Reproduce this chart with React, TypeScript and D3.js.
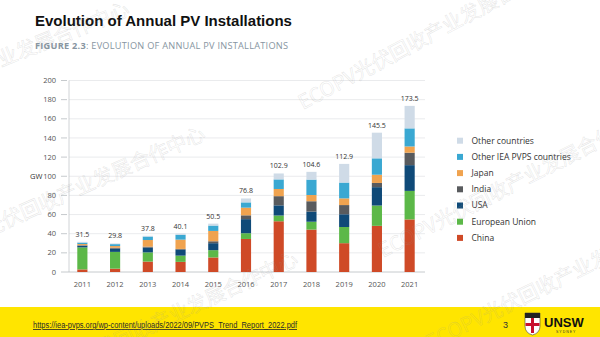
import React from "react";
import * as d3 from "d3";

const years = ["2011","2012","2013","2014","2015","2016","2017","2018","2019","2020","2021"];
const totals = [31.5, 29.8, 37.8, 40.1, 50.5, 76.8, 102.9, 104.6, 112.9, 145.5, 173.5];
const totalLabels = ["31.5","29.8","37.8","40.1","50.5","76.8","102.9","104.6","112.9","145.5","173.5"];

const china = [2.7, 3.5, 10.9, 10.6, 15.2, 34.5, 53.0, 44.3, 30.1, 48.2, 54.9];
const eu = [23.0, 17.5, 9.6, 6.5, 7.6, 6.0, 6.0, 8.2, 16.9, 21.2, 29.8];
const usa = [1.9, 3.4, 4.9, 6.2, 7.3, 14.7, 10.6, 10.6, 13.3, 19.2, 26.9];
const india = [0.3, 1.0, 1.1, 0.8, 2.0, 4.0, 9.6, 10.8, 9.6, 4.4, 13.0];
const japan = [1.3, 1.7, 6.9, 9.7, 10.8, 8.0, 7.5, 6.5, 7.0, 8.6, 6.5];
const otherIea = [1.5, 2.0, 3.6, 5.0, 5.6, 5.5, 10.0, 16.1, 16.5, 17.1, 18.9];
const otherCountries = [0.8, 0.7, 0.8, 1.3, 2.0, 4.1, 6.2, 8.1, 19.5, 26.8, 23.5];

const seriesNames = ["China", "European Union", "USA", "India", "Japan", "Other IEA PVPS countries", "Other countries"];
const seriesColors = ["#cf4a27", "#5cb848", "#0f4a78", "#595b5e", "#f0a34f", "#3aa8d2", "#cfdbe7"];
const seriesValues = [china, eu, usa, india, japan, otherIea, otherCountries];
const yTicks = [0, 20, 40, 60, 80, 100, 120, 140, 160, 180, 200];

const watermark = "ECOPV光伏回收产业发展合作中心";
const wmPositions = [
  { x: -150, y: 128, a: -22 },
  { x: -70, y: 262, a: -24 },
  { x: 303, y: 110, a: -28 },
  { x: 383, y: 258, a: -27 },
  { x: 25, y: 392, a: -25 },
  { x: 430, y: 350, a: -26 },
];

export default function App() {
  const x = d3.scaleBand<string>().domain(years).range([66, 426]).paddingInner(0.69).paddingOuter(0.345);
  const y = d3.scaleLinear().domain([0, 200]).range([272, 80.5]);

  const table = years.map((yr, i) => {
    const row: any = { year: yr };
    seriesNames.forEach((n, k) => (row[n] = seriesValues[k][i]));
    return row;
  });
  const stack = d3.stack<any>().keys(seriesNames)(table);

  const legendOrder = [...seriesNames].reverse();

  return (
    <div style={{ position: "absolute", left: 0, top: 0 }}>
      <svg width={600} height={337} style={{ display: "block", background: "#fff" }}>
        {/* Titles */}
        <text x={35} y={26} fontFamily="Liberation Sans, Arial, sans-serif" fontWeight="bold" fontSize={15} fill="#111">
          Evolution of Annual PV Installations
        </text>
        <text x={35} y={49} fontFamily="Open Sans, sans-serif" fontSize={9.2} fill="#8795a1" textLength={253} lengthAdjust="spacing">
          <tspan fontWeight="bold">FIGURE 2.3</tspan>
          <tspan>: EVOLUTION OF ANNUAL PV INSTALLATIONS</tspan>
        </text>

        {/* Grid */}
        {yTicks.map((t) => (
          <g key={t}>
            {t > 0 && <line x1={69} x2={425} y1={y(t)} y2={y(t)} stroke="#e4e6e8" strokeWidth={0.8} />}
            <line x1={61} x2={67} y1={y(t)} y2={y(t)} stroke="#b8bcc0" strokeWidth={0.8} />
            <text x={56} y={y(t)} dy="0.35em" textAnchor="end" fontFamily="Open Sans, sans-serif" fontSize={7.5} fill="#555">
              {t}
            </text>
          </g>
        ))}
        <line x1={69} x2={69} y1={y(200)} y2={272} stroke="#c4c8cc" strokeWidth={0.8} />
        <line x1={67} x2={425} y1={272} y2={272} stroke="#b8bcc0" strokeWidth={0.8} />
        <text x={30} y={176} dy="0.35em" fontFamily="Open Sans, sans-serif" fontSize={7.5} fill="#333">GW</text>

        {/* Bars */}
        {stack.map((s, k) => (
          <g key={seriesNames[k]} fill={seriesColors[k]}>
            {s.map((d, i) => (
              <rect key={i} x={x(years[i])!} width={x.bandwidth()} y={y(d[1])} height={Math.max(0, y(d[0]) - y(d[1]))} />
            ))}
          </g>
        ))}

        {/* Totals */}
        {years.map((yr, i) => (
          <text key={yr} x={x(yr)! + x.bandwidth() / 2} y={y(totals[i]) - 5} textAnchor="middle" fontFamily="Open Sans, sans-serif" fontSize={7} fill="#333">
            {totalLabels[i]}
          </text>
        ))}

        {/* Year labels */}
        {years.map((yr) => (
          <text key={yr} x={x(yr)! + x.bandwidth() / 2} y={287} textAnchor="middle" fontFamily="Open Sans, sans-serif" fontSize={7.5} fill="#555">
            {yr}
          </text>
        ))}

        {/* Legend */}
        {legendOrder.map((n, j) => {
          const k = seriesNames.indexOf(n);
          const cy = 140.7 + j * 16.2;
          return (
            <g key={n}>
              <rect x={457} y={cy - 3} width={6} height={6} fill={seriesColors[k]} />
              <text x={471.5} y={cy} dy="0.35em" fontFamily="Open Sans, sans-serif" fontSize={8.5} fill="#333">
                {n}
              </text>
            </g>
          );
        })}

        {/* Footer */}
        <rect x={0} y={307} width={600} height={30} fill="#ffe500" />
        <text x={33} y={328} fontFamily="Liberation Sans, Arial, sans-serif" fontSize={8.3} fill="#2a2a2a" textDecoration="underline" textLength={264} lengthAdjust="spacingAndGlyphs">
          https://iea-pvps.org/wp-content/uploads/2022/09/PVPS_Trend_Report_2022.pdf
        </text>
        <text x={503} y={328} fontFamily="Liberation Sans, Arial, sans-serif" fontSize={9} fill="#333">3</text>
        {/* UNSW logo */}
        <g>
          <path d="M525,313 h15 v13 q0,7 -7.5,9 q-7.5,-2 -7.5,-9 z" fill="#fff" stroke="#444" strokeWidth={0.6} />
          <rect x={525} y={313} width={15} height={5} fill="#222" />
          <rect x={531} y={318} width={3} height={15} fill="#c8102e" />
          <rect x={525.5} y={323} width={14} height={3} fill="#c8102e" />
          <text x={544} y={327} fontFamily="Liberation Sans, Arial, sans-serif" fontWeight="bold" fontSize={13} fill="#111">UNSW</text>
          <text x={556} y={333} fontFamily="Liberation Sans, Arial, sans-serif" fontSize={3.5} fill="#333" letterSpacing={1}>SYDNEY</text>
        </g>

        {/* Watermarks */}
        {wmPositions.map((p, i) => (
          <text key={i} transform={`translate(${p.x},${p.y}) rotate(${p.a})`} fontFamily="Noto Sans CJK SC, sans-serif" fontSize={20} fill="none" stroke="rgba(150,150,150,0.25)" strokeWidth={0.55}>
            {watermark}
          </text>
        ))}
      </svg>
    </div>
  );
}
